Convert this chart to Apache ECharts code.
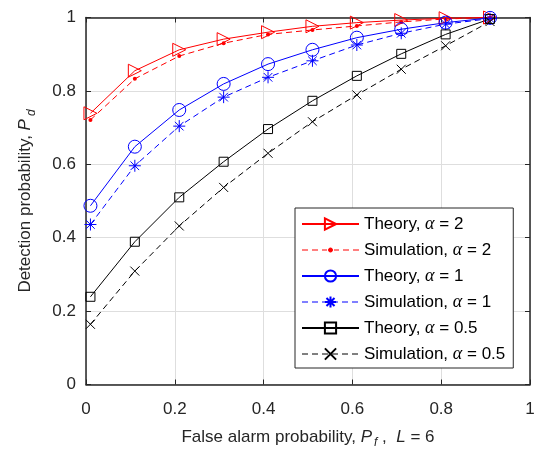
<!DOCTYPE html>
<html>
<head>
<meta charset="utf-8">
<script src="https://cdn.jsdelivr.net/npm/echarts@6/dist/echarts.min.js"></script>
<style>html,body{margin:0;padding:0;background:#fff}#c{width:536px;height:453px}</style>
</head>
<body>
<div id="c"></div>
<script>
var xValues = [0.01, 0.11, 0.21, 0.31, 0.41, 0.51, 0.61, 0.71, 0.81, 0.91];
var theory2 = [0.739, 0.855, 0.912, 0.941, 0.960, 0.976, 0.986, 0.993, 0.998, 1.0];
var sim2 = [0.721, 0.833, 0.895, 0.930, 0.954, 0.966, 0.977, 0.988, 0.996, 1.0];
var theory1 = [0.487, 0.648, 0.748, 0.819, 0.873, 0.912, 0.945, 0.968, 0.986, 0.999];
var sim1 = [0.436, 0.596, 0.704, 0.783, 0.837, 0.882, 0.925, 0.957, 0.982, 0.997];
var theory05 = [0.239, 0.389, 0.510, 0.607, 0.696, 0.773, 0.841, 0.901, 0.954, 0.996];
var sim05 = [0.164, 0.309, 0.432, 0.537, 0.630, 0.716, 0.789, 0.859, 0.923, 0.989];
var seriesNames = ['Theory, α = 2', 'Simulation, α = 2', 'Theory, α = 1', 'Simulation, α = 1', 'Theory, α = 0.5', 'Simulation, α = 0.5'];
var xTicks = ['0', '0.2', '0.4', '0.6', '0.8', '1'];
var yTicks = ['0', '0.2', '0.4', '0.6', '0.8', '1'];

function pairs(ys) { return xValues.map(function (x, i) { return [x, ys[i]]; }); }

var RED = '#ff0000', BLUE = '#0000ff', BLACK = '#000000';
var TXT = '#262626';
var FONT = 'Liberation Sans, Arial, sans-serif';
var STAR = 'path://M0,-6L0,6M-6,0L6,0M-4.3,-4.3L4.3,4.3M-4.3,4.3L4.3,-4.3';
var CROSS = 'path://M-5,-5L5,5M-5,5L5,-5';
// legend icon for the dotted simulation line: dashes + a small dot, with zero-length corner segments to fix the extent
var DOT_LEGEND = 'path://M0,0L0,0M57,14L57,14' +
  'M0,7L6,7M10,7L16,7M20,7L25,7M32,7L37,7M41,7L47,7M51,7L57,7' +
  'M26.5,7A2,2,0,1,1,30.5,7A2,2,0,1,1,26.5,7Z';
var clear = 'rgba(0,0,0,0)';

function mk(name, data, color, dashed, symbol, size, hollow, rotate) {
  return {
    name: name, type: 'line', data: pairs(data), clip: false,
    symbol: symbol, symbolSize: size, symbolRotate: rotate || 0,
    showAllSymbol: true,
    lineStyle: { color: color, width: 1, type: dashed ? [6, 4] : 'solid' },
    itemStyle: { color: hollow ? clear : color, borderColor: color, borderWidth: 1 },
    emphasis: { disabled: true },
    animation: false
  };
}

var series = [
  mk(seriesNames[0], theory2, RED, false, 'triangle', 13, true, -90),
  mk(seriesNames[1], sim2, RED, true, 'circle', 4, false),
  mk(seriesNames[2], theory1, BLUE, false, 'circle', 13, true),
  mk(seriesNames[3], sim1, BLUE, true, STAR, 12, true),
  mk(seriesNames[4], theory05, BLACK, false, 'rect', 9, true),
  mk(seriesNames[5], sim05, BLACK, true, CROSS, 9, true)
];
series[1].itemStyle.borderWidth = 0;

function legendFmt(n) {
  var parts = n.split('α');
  return parts[0] + '{a|α}' + parts[1];
}

var axisCommon = {
  type: 'value', min: 0, max: 1, interval: 0.2,
  axisLine: { show: true, onZero: false, lineStyle: { color: TXT, width: 1.5 } },
  axisTick: { show: true, inside: true, length: 5, lineStyle: { color: TXT, width: 1 } }
};

var legendData = seriesNames.map(function (n, i) {
  return { name: n, lineStyle: { width: i % 2 === 0 ? 2 : 1 } };
});
legendData[1] = { name: seriesNames[1], icon: DOT_LEGEND, itemStyle: { color: RED, borderColor: RED, borderWidth: 1 } };

var option = {
  backgroundColor: '#fff',
  animation: false,
  grid: { left: 86, right: 6, top: 17.5, bottom: 68.5, containLabel: false, outerBoundsMode: 'none' },
  legend: {
    orient: 'vertical', left: 295, top: 208,
    data: legendData,
    itemWidth: 57, itemHeight: 14, itemGap: 6,
    padding: [6, 8, 4, 6],
    backgroundColor: '#fff', borderColor: TXT, borderWidth: 1, borderRadius: 0,
    selectedMode: false,
    formatter: legendFmt,
    textStyle: {
      fontFamily: FONT, fontSize: 17, color: '#000', lineHeight: 20,
      rich: { a: { fontFamily: 'Liberation Serif, Times New Roman, serif', fontStyle: 'italic', fontSize: 18, color: '#000' } }
    }
  },
  xAxis: [
    Object.assign({}, axisCommon, {
      position: 'bottom',
      axisLabel: { margin: 16, fontFamily: FONT, fontSize: 17, color: TXT, formatter: function (v) { return xTicks[Math.round(v / 0.2)]; } },
      splitLine: { show: true, lineStyle: { color: '#dedede', width: 1 } },
      name: 'False alarm probability, {i|P}{s|f}{n| ,  }{i|L}{n| = 6}',
      nameLocation: 'middle', nameGap: 44,
      nameTextStyle: {
        fontFamily: FONT, fontSize: 17, color: TXT,
        rich: {
          n: { fontFamily: FONT, fontSize: 17, color: TXT },
          i: { fontFamily: FONT, fontSize: 17, fontStyle: 'italic', color: TXT },
          s: { fontFamily: FONT, fontSize: 12, fontStyle: 'italic', color: TXT, padding: [12, 0, 0, 2], lineHeight: 12 }
        }
      }
    }),
    Object.assign({}, axisCommon, {
      position: 'top', axisLabel: { show: false }, splitLine: { show: false }
    })
  ],
  yAxis: [
    Object.assign({}, axisCommon, {
      position: 'left',
      axisLabel: { margin: 10, fontFamily: FONT, fontSize: 17, color: TXT, formatter: function (v) { return yTicks[Math.round(v / 0.2)]; } },
      splitLine: { show: true, lineStyle: { color: '#dedede', width: 1 } },
      name: 'Detection probability, {i|P}{s|d}',
      nameLocation: 'middle', nameGap: 52,
      nameTextStyle: {
        fontFamily: FONT, fontSize: 17, color: TXT,
        rich: {
          i: { fontFamily: FONT, fontSize: 17, fontStyle: 'italic', color: TXT },
          s: { fontFamily: FONT, fontSize: 12, fontStyle: 'italic', color: TXT, padding: [12, 0, 0, 3], lineHeight: 12 }
        }
      }
    }),
    Object.assign({}, axisCommon, {
      position: 'right', axisLabel: { show: false }, splitLine: { show: false }
    })
  ],
  series: series
};

var chart = echarts.init(document.getElementById('c'), null, { renderer: 'canvas' });
chart.setOption(option);
</script>
</body>
</html>
